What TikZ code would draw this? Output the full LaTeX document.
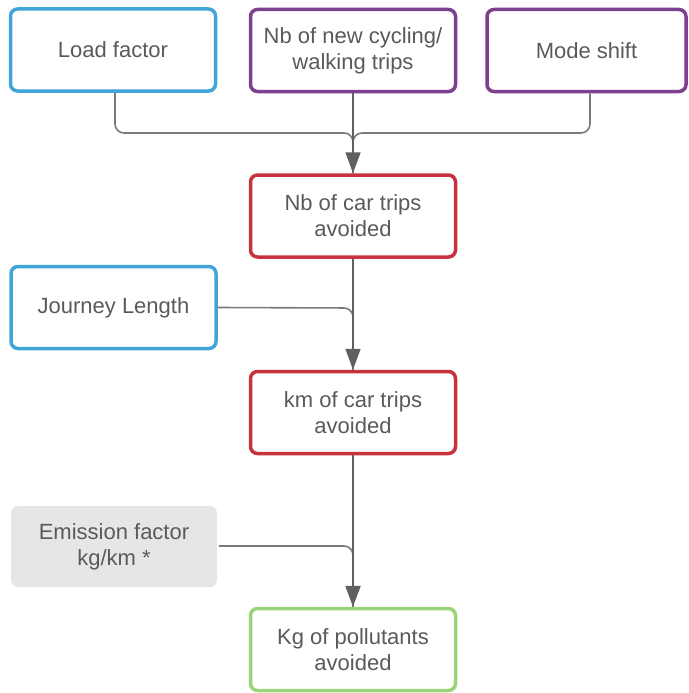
\documentclass[tikz,border=0pt]{standalone}
\usepackage{fontspec}
\setmainfont{Liberation Sans}
\usetikzlibrary{arrows.meta}
\definecolor{cblue}{HTML}{41A5DA}
\definecolor{cpurple}{HTML}{7E3F8E}
\definecolor{cred}{HTML}{C7323E}
\definecolor{cgreen}{HTML}{98D47A}
\definecolor{cgrayfill}{HTML}{E6E6E6}
\definecolor{ctext}{HTML}{5A5A5A}
\definecolor{cline}{HTML}{7A7A7A}
\definecolor{carrow}{HTML}{606060}
\tikzset{
  boxbase/.style={rectangle, rounded corners=7pt, line width=3.5pt, minimum width=205pt,
    minimum height=82pt, align=center, font=\fontsize{22}{26}\selectfont, text=ctext, fill=white},
  bluebox/.style={boxbase, draw=cblue},
  purplebox/.style={boxbase, draw=cpurple},
  redbox/.style={boxbase, draw=cred},
  greenbox/.style={boxbase, draw=cgreen},
  graybox/.style={boxbase, draw=none, fill=cgrayfill, minimum width=206pt, minimum height=81pt},
  conn/.style={draw=cline, line width=1.6pt, rounded corners=9pt},
  arr/.style={conn, -{Triangle[width=15pt,length=21pt]}, color=carrow},
}
\begin{document}
\begin{tikzpicture}[x=1pt,y=-1pt]
\useasboundingbox (0,0) rectangle (688,693);
\node[bluebox] (lf) at (113,50) {Load factor};
\node[purplebox] (nw) at (353,50.5) {Nb of new cycling/\\walking trips};
\node[purplebox, minimum width=199pt] (ms) at (586.5,50.5) {Mode shift};
\node[redbox] (nct) at (353,216) {Nb of car trips\\avoided};
\node[bluebox] (jl) at (113.5,307.5) {Journey Length};
\node[redbox] (kct) at (353,412.5) {km of car trips\\avoided};
\node[graybox] (ef) at (114,546.5) {Emission factor\\kg/km *};
\node[greenbox] (kp) at (353,649.5) {Kg of pollutants\\avoided};
\coordinate (j1) at (353,133);
\coordinate (j2) at (353,308);
\coordinate (j3) at (353,546);
\draw[conn] (lf.south -| 115,0) |- (j1) -- (nct.north);
\draw[conn] (ms.south -| 590,0) |- (j1) -- (nct.north);
\draw[arr] (nw.south) -- (nct.north);
\draw[conn] (jl.east) -- (j2) -- (kct.north);
\draw[arr] (nct.south) -- (kct.north);
\draw[conn] (ef.east |- j3) -- (j3) -- (kp.north);
\draw[arr, line width=2.4pt] (kct.south) -- (kp.north);
\end{tikzpicture}
\end{document}
